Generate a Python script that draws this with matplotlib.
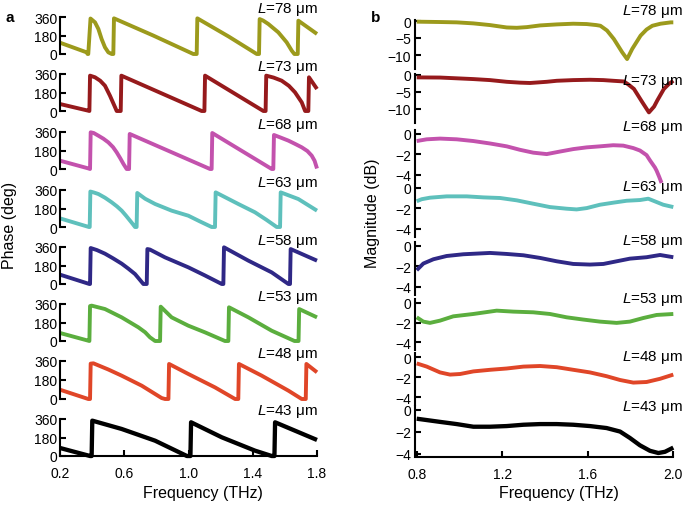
import matplotlib
matplotlib.use('Agg')
import matplotlib.pyplot as plt

plt.rcParams['font.family'] = ['Liberation Sans', 'DejaVu Sans']
plt.rcParams['mathtext.fontset'] = 'custom'
plt.rcParams['mathtext.rm'] = 'Liberation Sans'
plt.rcParams['mathtext.it'] = 'Liberation Sans:italic'

# ---------------- data ----------------
lengths = [78, 73, 68, 63, 58, 53, 48, 43]
colors = ['#9c9a1c', '#961a1c', '#c352ad', '#5ec0bc', '#2f2886', '#5bae3e', '#e04628', '#000000']

# Phase (deg) vs frequency (THz), panel a
ph_f_78 = [0.20, 0.366, 0.372, 0.376, 0.39, 0.418, 0.439, 0.459, 0.48, 0.501, 0.522, 0.532, 0.536, 0.78, 1.03, 1.051, 1.055, 1.25, 1.425, 1.439, 1.443, 1.465, 1.497, 1.559, 1.611, 1.643, 1.659, 1.68, 1.684, 1.80]
ph_78 = [110, 16, 0, 0, 345, 308, 243, 146, 65, 16, 0, 0, 347, 180, 0, 0, 347, 170, 0, 0, 340, 325, 292, 211, 114, 32, 0, 0, 324, 195]

ph_f_73 = [0.20, 0.376, 0.383, 0.387, 0.418, 0.45, 0.48, 0.511, 0.543, 0.553, 0.578, 0.582, 1.082, 1.099, 1.103, 1.466, 1.48, 1.484, 1.53, 1.58, 1.625, 1.663, 1.705, 1.726, 1.746, 1.75, 1.80]
ph_73 = [68, 3, 0, 344, 328, 295, 246, 149, 36, 0, 0, 344, 0, 0, 344, 0, 0, 344, 325, 295, 245, 182, 84, 0, 0, 328, 214]

ph_f_68 = [0.20, 0.376, 0.387, 0.391, 0.41, 0.439, 0.47, 0.501, 0.53, 0.553, 0.575, 0.595, 0.615, 0.63, 0.634, 1.134, 1.144, 1.148, 1.518, 1.528, 1.532, 1.575, 1.622, 1.665, 1.705, 1.74, 1.767, 1.785, 1.80]
ph_68 = [81, 6, 0, 357, 350, 324, 295, 259, 213, 162, 105, 49, 0, 0, 341, 0, 0, 350, 0, 0, 331, 305, 276, 243, 211, 175, 130, 80, 5]

ph_f_63 = [0.20, 0.38, 0.385, 0.389, 0.41, 0.439, 0.48, 0.522, 0.555, 0.584, 0.61, 0.636, 0.655, 0.667, 0.677, 0.681, 0.73, 0.792, 0.895, 0.999, 1.07, 1.144, 1.165, 1.169, 1.31, 1.414, 1.485, 1.549, 1.57, 1.574, 1.684, 1.80]
ph_63 = [84, 0, 0, 345, 336, 321, 285, 240, 200, 159, 112, 62, 25, 0, 0, 331, 275, 224, 159, 110, 55, 0, 0, 337, 224, 143, 70, 0, 0, 337, 272, 159]

ph_f_58 = [0.20, 0.383, 0.387, 0.391, 0.43, 0.48, 0.53, 0.584, 0.625, 0.667, 0.695, 0.719, 0.74, 0.744, 0.76, 0.854, 0.999, 1.10, 1.207, 1.217, 1.221, 1.373, 1.518, 1.622, 1.632, 1.636, 1.80]
ph_58 = [91, 0, 0, 350, 330, 295, 250, 198, 150, 97, 45, 0, 0, 340, 335, 259, 162, 85, 0, 0, 357, 227, 113, 0, 0, 340, 227]

ph_f_53 = [0.20, 0.376, 0.383, 0.387, 0.397, 0.48, 0.584, 0.688, 0.73, 0.76, 0.792, 0.823, 0.827, 0.895, 0.999, 1.103, 1.227, 1.248, 1.252, 1.373, 1.518, 1.66, 1.685, 1.689, 1.80]
ph_53 = [78, 3, 0, 340, 344, 311, 230, 133, 85, 36, 0, 0, 334, 230, 149, 84, 0, 0, 328, 230, 100, 0, 0, 311, 230]

ph_f_48 = [0.20, 0.376, 0.387, 0.391, 0.408, 0.50, 0.584, 0.709, 0.833, 0.854, 0.875, 0.879, 0.999, 1.165, 1.29, 1.31, 1.314, 1.456, 1.622, 1.705, 1.73, 1.734, 1.80]
ph_48 = [88, 0, 0, 335, 338, 280, 221, 126, 9, 0, 0, 332, 237, 110, 0, 0, 332, 221, 79, 0, 0, 332, 253]

ph_f_43 = [0.20, 0.387, 0.397, 0.401, 0.584, 0.792, 0.99, 1.012, 1.016, 1.207, 1.414, 1.518, 1.535, 1.539, 1.80]
ph_43 = [78, 0, 0, 344, 263, 149, 0, 0, 328, 182, 52, 0, 0, 328, 156]

# Magnitude (dB) vs frequency (THz), panel b
mg_f_78 = [0.8, 0.909, 0.987, 1.065, 1.143, 1.221, 1.268, 1.315, 1.377, 1.455, 1.532, 1.595, 1.64, 1.659, 1.69, 1.722, 1.761, 1.784, 1.808, 1.847, 1.875, 1.902, 1.94, 1.988, 2.0]
mg_78 = [-0.2, -0.3, -0.4, -0.7, -1.2, -1.9, -2.0, -1.8, -1.3, -1.0, -0.8, -0.9, -1.2, -1.4, -2.8, -5.3, -9.2, -11.2, -8.2, -4.3, -2.5, -1.4, -0.8, -0.4, -0.4]

mg_f_73 = [0.8, 0.909, 1.065, 1.143, 1.221, 1.283, 1.33, 1.408, 1.455, 1.532, 1.61, 1.673, 1.719, 1.769, 1.79, 1.816, 1.855, 1.886, 1.91, 1.925, 1.956, 1.98, 2.0]
mg_73 = [-0.7, -0.75, -1.2, -1.5, -2.0, -2.25, -2.35, -2.0, -1.7, -1.5, -1.4, -1.5, -1.7, -1.9, -2.8, -4.1, -8.0, -11.0, -9.3, -7.5, -4.1, -2.6, -1.7]

mg_f_68 = [0.8, 0.847, 0.909, 0.987, 1.065, 1.143, 1.221, 1.283, 1.345, 1.408, 1.47, 1.532, 1.595, 1.657, 1.719, 1.766, 1.813, 1.844, 1.875, 1.891, 1.914, 1.922, 1.934, 1.945]
mg_68 = [-0.69, -0.52, -0.45, -0.52, -0.69, -0.93, -1.21, -1.55, -1.83, -1.97, -1.72, -1.48, -1.31, -1.21, -1.1, -1.14, -1.38, -1.62, -2.07, -2.59, -3.28, -3.6, -4.2, -4.8]

mg_f_63 = [0.8, 0.823, 0.862, 0.94, 1.034, 1.112, 1.19, 1.268, 1.345, 1.423, 1.501, 1.548, 1.595, 1.657, 1.719, 1.782, 1.844, 1.883, 1.914, 1.953, 2.0]
mg_63 = [-1.3, -1.1, -0.95, -0.82, -0.82, -0.92, -0.98, -1.21, -1.54, -1.87, -2.03, -2.1, -1.97, -1.64, -1.44, -1.25, -1.18, -1.05, -1.31, -1.64, -1.87]

mg_f_58 = [0.8, 0.831, 0.878, 0.94, 1.018, 1.143, 1.221, 1.299, 1.377, 1.455, 1.532, 1.61, 1.673, 1.735, 1.797, 1.875, 1.938, 2.0]
mg_58 = [-2.37, -1.72, -1.3, -0.98, -0.81, -0.68, -0.78, -0.91, -1.17, -1.5, -1.76, -1.82, -1.76, -1.5, -1.24, -1.1, -0.88, -1.1]

mg_f_53 = [0.8, 0.831, 0.862, 0.909, 0.971, 1.065, 1.174, 1.252, 1.345, 1.423, 1.501, 1.579, 1.657, 1.735, 1.797, 1.86, 1.922, 2.0]
mg_53 = [-1.46, -1.9, -2.03, -1.8, -1.36, -1.12, -0.78, -0.88, -0.95, -1.12, -1.46, -1.69, -1.9, -2.03, -1.9, -1.53, -1.22, -1.12]

mg_f_48 = [0.8, 0.847, 0.909, 0.956, 1.003, 1.065, 1.143, 1.221, 1.299, 1.377, 1.455, 1.532, 1.61, 1.688, 1.751, 1.813, 1.875, 1.938, 2.0]
mg_48 = [-0.64, -0.96, -1.54, -1.76, -1.7, -1.44, -1.28, -1.15, -0.96, -0.9, -1.02, -1.28, -1.54, -1.92, -2.3, -2.56, -2.5, -2.18, -1.76]

mg_f_43 = [0.8, 0.909, 0.987, 1.065, 1.143, 1.221, 1.299, 1.377, 1.455, 1.532, 1.61, 1.688, 1.751, 1.797, 1.844, 1.891, 1.93, 1.961, 2.0]
mg_43 = [-0.79, -1.08, -1.28, -1.52, -1.52, -1.46, -1.34, -1.28, -1.28, -1.34, -1.46, -1.64, -1.96, -2.54, -3.21, -3.71, -3.91, -3.8, -3.42]

phase_f = [ph_f_78, ph_f_73, ph_f_68, ph_f_63, ph_f_58, ph_f_53, ph_f_48, ph_f_43]
phase_v = [ph_78, ph_73, ph_68, ph_63, ph_58, ph_53, ph_48, ph_43]
mag_f = [mg_f_78, mg_f_73, mg_f_68, mg_f_63, mg_f_58, mg_f_53, mg_f_48, mg_f_43]
mag_v = [mg_78, mg_73, mg_68, mg_63, mg_58, mg_53, mg_48, mg_43]

phase_xticks = [0.2, 0.6, 1.0, 1.4, 1.8]
mag_xticks = [0.8, 1.2, 1.6, 2.0]
phase_yticks = [0, 180, 360]

# ---------------- layout (pixels) ----------------
W, H = 685, 506
fig = plt.figure(figsize=(W / 100, H / 100), dpi=100)

def add_ax(left, top, w, h):
    return fig.add_axes([left / W, 1 - (top + h) / H, w / W, h / H])

def ftext(x, y, s, **kw):
    fig.text(x / W, 1 - y / H, s, **kw)

TFS = 10     # tick labels
LFS = 11     # L labels
AFS = 11.5   # axis labels
LW = 2.8

lt_top = [18, 75, 133, 191, 248, 305, 362, 420]
lt_zero = [55, 112, 170, 228, 285, 342, 400, 457]
lab_left_y = [9, 67, 126, 183, 241, 298, 355, 412]

for i in range(8):
    ax = add_ax(60, lt_top[i], 257, lt_zero[i] - lt_top[i])
    lw = LW + 0.3 if i == 7 else LW
    ax.plot(phase_f[i], phase_v[i], color=colors[i], lw=lw, clip_on=False,
            solid_joinstyle='round', solid_capstyle='butt')
    ax.set_xlim(0.2, 1.8)
    ax.set_ylim(0, 360)
    ax.set_yticks(phase_yticks)
    ax.set_yticklabels([str(t) for t in phase_yticks])
    ax.tick_params(axis='y', direction='in', length=4, width=1.5, pad=2, labelsize=TFS)
    for s in ['top', 'right']:
        ax.spines[s].set_visible(False)
    ax.spines['left'].set_linewidth(1.5)
    ax.patch.set_alpha(0)
    if i == 7:
        ax.spines['bottom'].set_linewidth(1.5)
        ax.set_xticks(phase_xticks)
        ax.set_xticklabels([f'{t:.1f}' for t in phase_xticks])
        ax.tick_params(axis='x', direction='in', length=4, width=1.5, pad=7, labelsize=TFS)
    else:
        ax.spines['bottom'].set_visible(False)
        ax.set_xticks([])
    ftext(318, lab_left_y[i], f'$L$={lengths[i]} μm', ha='right', va='center', fontsize=LFS)

rt_zero = [22, 76, 135, 189, 247, 304, 358, 411]
rt_scale = [3.4, 3.4, 10.2, 10.2, 10.2, 9.8, 10.0, 11.0]
rt_bot = [-14.0, -14.0, -4.8, -4.8, -4.8, -4.8, -4.8, -4.3]
lab_right_y = [12, 82, 128, 188, 242, 300, 357, 408]
for i in range(8):
    top_db = 0.4
    top = rt_zero[i] - top_db * rt_scale[i]
    h = (top_db - rt_bot[i]) * rt_scale[i]
    ax = add_ax(416.7, top, 256.6, h)
    lw = LW + 0.3 if i == 7 else LW
    ax.plot(mag_f[i], mag_v[i], color=colors[i], lw=lw, clip_on=False,
            solid_joinstyle='round', solid_capstyle='butt')
    ax.set_xlim(0.8, 2.0)
    ax.set_ylim(rt_bot[i], top_db)
    yt = [0, -5, -10] if i < 2 else [0, -2, -4]
    ax.set_yticks(yt)
    ax.tick_params(axis='y', direction='in', length=4, width=1.5, pad=3, labelsize=TFS)
    for s in ['top', 'right']:
        ax.spines[s].set_visible(False)
    ax.spines['left'].set_linewidth(1.5)
    ax.spines['left'].set_position(('outward', 1))
    ax.patch.set_alpha(0)
    if i == 7:
        ax.spines['bottom'].set_linewidth(1.5)
        ax.set_xticks(mag_xticks)
        ax.set_xticklabels([f'{t:.1f}' for t in mag_xticks])
        ax.tick_params(axis='x', direction='in', length=4, width=1.5, pad=7, labelsize=TFS)
    else:
        ax.spines['bottom'].set_visible(False)
        ax.set_xticks([])
    ftext(683, lab_right_y[i], f'$L$={lengths[i]} μm', ha='right', va='center', fontsize=LFS)

ftext(10, 18, 'a', fontsize=11, fontweight='bold', ha='center', va='center')
ftext(376, 18, 'b', fontsize=11, fontweight='bold', ha='center', va='center')
ftext(10, 225, 'Phase (deg)', fontsize=AFS, rotation=90, ha='center', va='center')
ftext(373, 213, 'Magnitude (dB)', fontsize=AFS, rotation=90, ha='center', va='center')
ftext(203, 494, 'Frequency (THz)', fontsize=AFS, ha='center', va='center')
ftext(559, 494, 'Frequency (THz)', fontsize=AFS, ha='center', va='center')

fig.savefig('out.png', dpi=100)
